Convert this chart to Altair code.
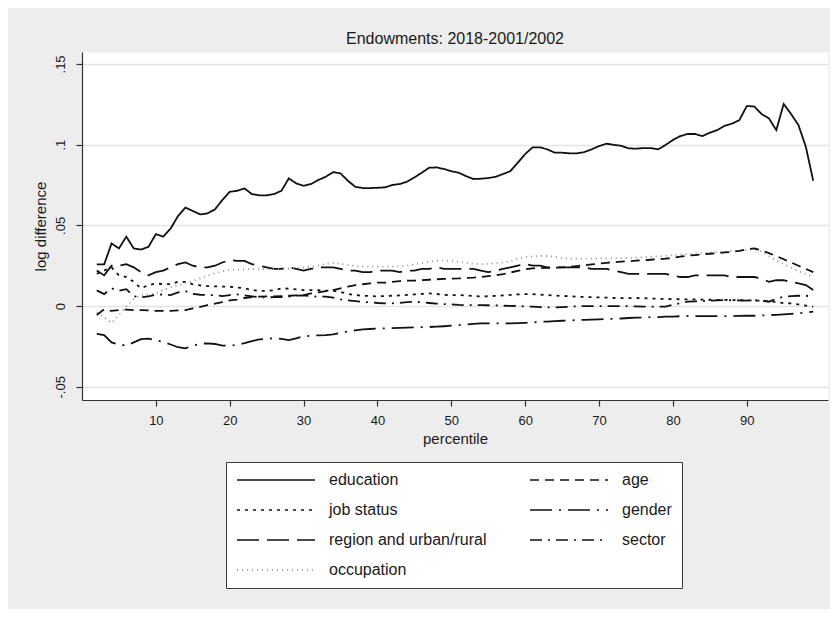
import altair as alt
import pandas as pd

FONT = "Liberation Sans"

percentile = list(range(2, 100))

education = [
    .0258, .0258, .0388, .0357, .0430, .0357, .0350, .0367, .0446, .0430,
    .0480, .0558, .0610, .0589, .0568, .0574, .0599, .0657, .0708, .0714,
    .0729, .0694, .0686, .0686, .0694, .0714, .0791, .0760, .0745, .0756,
    .0781, .0801, .0830, .0822, .0776, .0739, .0731, .0731, .0733, .0735,
    .0750, .0756, .0770, .0797, .0826, .0857, .0859, .0849, .0836, .0826,
    .0805, .0787, .0789, .0793, .0801, .0818, .0836, .0888, .0942, .0983,
    .0983, .0971, .0950, .0950, .0946, .0946, .0954, .0971, .0991, .1006,
    .0999, .0993, .0977, .0975, .0979, .0979, .0971, .0998, .1029, .1053,
    .1066, .1066, .1053, .1074, .1090, .1117, .1130, .1152, .1239, .1237,
    .1190, .1163, .1090, .1252, .1190, .1121, .0987, .0776,
]

age = [
    -.0055, -.0020, -.0030, -.0025, -.0022, -.0025, -.0025, -.0027, -.0030, -.0030,
    -.0030, -.0027, -.0025, -.0015, -.0005, .0006, .0015, .0025, .0035, .0040,
    .0050, .0055, .0058, .0060, .0060, .0062, .0064, .0066, .0068, .0078,
    .0085, .0092, .0099, .0110, .0120, .0130, .0135, .0140, .0145, .0145,
    .0150, .0155, .0157, .0158, .0160, .0163, .0166, .0168, .0170, .0171,
    .0174, .0176, .0180, .0185, .0190, .0198, .0208, .0218, .0228, .0233,
    .0235, .0237, .0238, .0240, .0243, .0248, .0253, .0258, .0263, .0268,
    .0272, .0275, .0278, .0281, .0284, .0287, .0290, .0294, .0298, .0306,
    .0312, .0316, .0320, .0324, .0328, .0332, .0336, .0342, .0352, .0357,
    .0345, .0328, .0310, .0290, .0270, .0250, .0230, .0210,
]

job_status = [
    .0200, .0220, .0240, .0190, .0180, .0150, .0110, .0130, .0140, .0136,
    .0136, .0150, .0150, .0135, .0128, .0124, .0122, .0120, .0120, .0115,
    .0110, .0100, .0093, .0095, .0098, .0110, .0108, .0103, .0099, .0099,
    .0098, .0096, .0095, .0087, .0075, .0068, .0064, .0062, .0060, .0062,
    .0064, .0066, .0069, .0072, .0075, .0079, .0075, .0069, .0068, .0068,
    .0066, .0062, .0060, .0061, .0063, .0066, .0069, .0072, .0074, .0074,
    .0071, .0068, .0065, .0063, .0061, .0058, .0057, .0055, .0054, .0052,
    .0050, .0049, .0049, .0050, .0049, .0047, .0045, .0044, .0043, .0042,
    .0041, .0041, .0040, .0039, .0038, .0038, .0037, .0036, .0035, .0034,
    .0033, .0030, .0025, .0018, .0017, .0010, .0003, -.0004,
]

gender = [
    -.0173, -.0180, -.0225, -.0238, -.0245, -.0225, -.0205, -.0202, -.0211, -.0222,
    -.0238, -.0255, -.0262, -.0245, -.0233, -.0231, -.0235, -.0245, -.0246, -.0240,
    -.0230, -.0217, -.0207, -.0202, -.0200, -.0203, -.0211, -.0200, -.0188, -.0184,
    -.0181, -.0180, -.0176, -.0165, -.0157, -.0150, -.0145, -.0142, -.0139, -.0138,
    -.0137, -.0135, -.0133, -.0132, -.0131, -.0130, -.0128, -.0125, -.0121, -.0118,
    -.0114, -.0110, -.0107, -.0107, -.0107, -.0107, -.0107, -.0106, -.0104, -.0101,
    -.0098, -.0096, -.0093, -.0091, -.0089, -.0087, -.0085, -.0084, -.0082, -.0080,
    -.0079, -.0077, -.0074, -.0072, -.0071, -.0069, -.0068, -.0066, -.0065, -.0063,
    -.0062, -.0062, -.0062, -.0062, -.0062, -.0062, -.0062, -.0061, -.0060, -.0060,
    -.0058, -.0056, -.0054, -.0052, -.0049, -.0045, -.0040, -.0035,
]

region_urban_rural = [
    .0220, .0190, .0250, .0250, .0260, .0240, .0210, .0190, .0210, .0220,
    .0240, .0260, .0270, .0250, .0240, .0240, .0250, .0270, .0285, .0280,
    .0280, .0260, .0250, .0240, .0230, .0230, .0240, .0230, .0220, .0230,
    .0240, .0240, .0240, .0230, .0220, .0220, .0210, .0210, .0220, .0220,
    .0220, .0210, .0220, .0220, .0230, .0230, .0240, .0230, .0230, .0230,
    .0230, .0230, .0220, .0210, .0220, .0230, .0240, .0250, .0260, .0250,
    .0250, .0240, .0240, .0240, .0240, .0240, .0240, .0230, .0230, .0230,
    .0220, .0210, .0200, .0200, .0200, .0200, .0200, .0200, .0190, .0180,
    .0180, .0190, .0190, .0190, .0190, .0190, .0180, .0180, .0180, .0180,
    .0170, .0150, .0160, .0160, .0150, .0140, .0130, .0100,
]

sector = [
    .0097, .0074, .0110, .0095, .0105, .0060, .0055, .0060, .0070, .0072,
    .0068, .0085, .0093, .0075, .0070, .0068, .0068, .0062, .0068, .0072,
    .0066, .0060, .0055, .0054, .0055, .0056, .0058, .0065, .0066, .0062,
    .0058, .0058, .0052, .0042, .0035, .0030, .0026, .0023, .0019, .0017,
    .0017, .0020, .0025, .0027, .0023, .0019, .0015, .0012, .0010, .0007,
    .0006, .0006, .0006, .0005, .0004, .0002, .0001, .0000, -.0002, -.0004,
    -.0006, -.0008, -.0008, -.0006, -.0004, -.0001, .0000, .0000, .0000, .0000,
    .0000, .0000, -.0001, -.0002, -.0003, -.0004, -.0004, -.0004, .0008, .0018,
    .0027, .0029, .0031, .0033, .0035, .0037, .0036, .0035, .0034, .0036,
    .0034, .0027, .0045, .0058, .0062, .0064, .0064, .0058,
]

occupation = [
    -.0040, -.0070, -.0105, -.0056, .0000, .0045, .0065, .0070, .0078, .0100,
    .0115, .0128, .0142, .0155, .0172, .0190, .0203, .0215, .0223, .0226,
    .0228, .0229, .0229, .0229, .0230, .0231, .0232, .0235, .0238, .0243,
    .0252, .0260, .0268, .0262, .0255, .0248, .0245, .0244, .0244, .0244,
    .0244, .0247, .0251, .0258, .0266, .0275, .0281, .0281, .0279, .0275,
    .0268, .0262, .0260, .0262, .0266, .0270, .0278, .0292, .0304, .0308,
    .0311, .0310, .0305, .0298, .0293, .0293, .0294, .0294, .0295, .0295,
    .0296, .0297, .0298, .0300, .0302, .0305, .0308, .0312, .0316, .0319,
    .0322, .0325, .0328, .0331, .0334, .0337, .0340, .0343, .0347, .0351,
    .0338, .0310, .0282, .0260, .0238, .0215, .0198, .0182,
]

# legend is filled column by column: left column first, then right column
series_names = ["education", "job status", "region and urban/rural", "occupation",
                "age", "gender", "sector"]
series_values = [education, job_status, region_urban_rural, occupation,
                 age, gender, sector]
dash_patterns = [[1, 0], [3, 5], [22, 8], [1, 4], [9, 6], [22, 7, 2, 7], [12, 6, 2, 6]]
line_colors = ["#111111", "#111111", "#111111", "#8f8f8f", "#111111", "#111111", "#111111"]

x_ticks = [10, 20, 30, 40, 50, 60, 70, 80, 90]
y_ticks = [-0.05, 0, 0.05, 0.1, 0.15]

rows = []
for name, vals in zip(series_names, series_values):
    for p, v in zip(percentile, vals):
        rows.append({"percentile": p, "value": v, "series": name})
df = pd.DataFrame(rows)

legend = alt.Legend(
    title=None,
    orient="none",
    legendX=144,
    legendY=410,
    columns=2,
    gridAlign="each",
    symbolType="stroke",
    symbolSize=6084,
    symbolStrokeWidth=1.6,
    clipHeight=16,
    labelFont=FONT,
    labelFontSize=16,
    labelColor="#1a1a1a",
    labelOffset=13,
    labelLimit=300,
    columnPadding=42,
    rowPadding=14,
    padding=10,
    fillColor="white",
    strokeColor="#3a3a3a",
)

chart = alt.Chart(df).mark_line(strokeWidth=1.8).encode(
    x=alt.X(
        "percentile:Q",
        scale=alt.Scale(domain=[0, 101], nice=False, zero=False),
        axis=alt.Axis(
            values=x_ticks, title="percentile", grid=False,
            tickSize=6, labelPadding=8, titlePadding=4,
        ),
    ),
    y=alt.Y(
        "value:Q",
        scale=alt.Scale(domain=[-0.0582, 0.1574], nice=False, zero=False),
        axis=alt.Axis(
            values=y_ticks, title="log difference", grid=True,
            labelExpr="datum.value == 0 ? '0' : replace(replace(format(datum.value, '.2~f'), '\u2212', '-'), '0.', '.')",
            labelAngle=270, labelAlign="center", labelBaseline="bottom",
            tickSize=6, labelPadding=9, titlePadding=6,
        ),
    ),
    color=alt.Color("series:N", scale=alt.Scale(domain=series_names, range=line_colors), legend=legend),
    strokeDash=alt.StrokeDash("series:N", scale=alt.Scale(domain=series_names, range=dash_patterns), legend=legend),
).properties(
    width=746,
    height=348,
    title=alt.Title(
        "Endowments: 2018-2001/2002", font=FONT, fontSize=16, fontWeight="normal",
        color="#1a1a1a", anchor="middle", frame="group", offset=5,
    ),
    autosize=alt.AutoSizeParams(type="none"),
    padding={"left": 74, "top": 44, "right": 2, "bottom": 209},
).configure(
    background="#ededed",
    font=FONT,
).configure_view(
    fill="white", stroke="transparent",
).configure_axis(
    labelFont=FONT, labelFontSize=13, labelColor="#1a1a1a",
    titleFont=FONT, titleFontSize=15, titleFontWeight="normal", titleColor="#1a1a1a",
    domainColor="#333333", tickColor="#333333", domainWidth=1.2, tickWidth=1.2,
    gridColor="#e4e4e4", gridWidth=1.5,
)

chart.save("out.html", embed_options={"renderer": "svg", "actions": False})
